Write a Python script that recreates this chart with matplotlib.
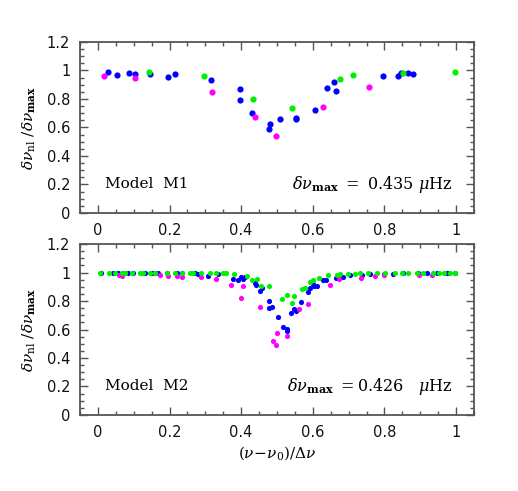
import matplotlib
matplotlib.use("Agg")
import matplotlib.pyplot as plt
from matplotlib.ticker import MultipleLocator

plt.rcParams['font.family'] = ['DejaVu Sans']
plt.rcParams['mathtext.fontset'] = 'dejavuserif'

# ---- Model M1 (top panel) ----
m1_blue_x = [0.027, 0.052, 0.088, 0.103, 0.145, 0.195, 0.215, 0.315, 0.396, 0.398, 0.429,
             0.480, 0.478, 0.508, 0.553, 0.553, 0.605, 0.639, 0.660, 0.664, 0.797, 0.837,
             0.846, 0.867, 0.881]
m1_blue_y = [0.986, 0.965, 0.983, 0.974, 0.972, 0.953, 0.976, 0.930, 0.867, 0.792, 0.703,
             0.624, 0.589, 0.657, 0.670, 0.657, 0.726, 0.874, 0.920, 0.855, 0.958, 0.958,
             0.979, 0.979, 0.976]
m1_green_x = [0.143, 0.296, 0.434, 0.541, 0.676, 0.713, 0.851, 0.997]
m1_green_y = [0.986, 0.960, 0.797, 0.736, 0.941, 0.965, 0.983, 0.990]
m1_mag_x = [0.018, 0.103, 0.318, 0.439, 0.497, 0.628, 0.757]
m1_mag_y = [0.958, 0.946, 0.848, 0.673, 0.537, 0.745, 0.883]

# ---- Model M2 (bottom panel) ----
m2_blue_x = [0.010, 0.041, 0.057, 0.071, 0.085, 0.099, 0.131, 0.150, 0.169, 0.192, 0.220,
             0.234, 0.271, 0.280, 0.308, 0.336, 0.378, 0.392, 0.399, 0.404, 0.412, 0.439,
             0.441, 0.453, 0.458, 0.477, 0.477, 0.485, 0.504, 0.516, 0.527, 0.527, 0.538,
             0.547, 0.553, 0.567, 0.587, 0.592, 0.601, 0.603, 0.611, 0.628, 0.637, 0.665,
             0.685, 0.704, 0.736, 0.760, 0.799, 0.825, 0.853, 0.895, 0.918, 0.946, 0.974,
             0.998]
m2_blue_y = [0.995, 0.998, 0.998, 0.996, 0.998, 0.998, 0.997, 0.996, 0.996, 0.995, 0.996,
             0.995, 0.995, 0.990, 0.979, 0.990, 0.953, 0.949, 0.967, 0.953, 0.972, 0.925,
             0.913, 0.867, 0.890, 0.803, 0.750, 0.757, 0.686, 0.616, 0.607, 0.593, 0.719,
             0.745, 0.731, 0.794, 0.862, 0.890, 0.918, 0.902, 0.902, 0.946, 0.946, 0.965,
             0.972, 0.981, 0.984, 0.991, 0.993, 0.993, 0.995, 0.995, 0.995, 0.995, 0.998,
             1.000]
m2_green_x = [0.006, 0.032, 0.048, 0.066, 0.076, 0.094, 0.117, 0.127, 0.145, 0.159, 0.192,
              0.215, 0.234, 0.257, 0.266, 0.289, 0.313, 0.331, 0.350, 0.359, 0.380, 0.415,
              0.429, 0.445, 0.455, 0.478, 0.513, 0.527, 0.541, 0.547, 0.569, 0.578, 0.592,
              0.600, 0.618, 0.643, 0.667, 0.676, 0.699, 0.718, 0.732, 0.755, 0.778, 0.802,
              0.830, 0.848, 0.867, 0.890, 0.909, 0.937, 0.951, 0.965, 0.983, 0.997]
m2_green_y = [1.000, 1.000, 0.999, 1.000, 1.000, 1.000, 1.000, 1.000, 1.000, 1.000, 0.999,
              1.000, 0.999, 1.000, 1.000, 0.998, 0.997, 0.997, 0.996, 0.996, 0.988, 0.979,
              0.949, 0.953, 0.902, 0.906, 0.815, 0.843, 0.787, 0.832, 0.885, 0.892, 0.934,
              0.944, 0.965, 0.981, 0.981, 0.988, 0.993, 0.993, 0.995, 0.995, 0.995, 0.995,
              0.995, 0.998, 0.998, 0.998, 0.998, 0.998, 0.998, 0.998, 0.998, 1.000]
m2_mag_x = [0.060, 0.066, 0.173, 0.195, 0.222, 0.236, 0.289, 0.329, 0.373, 0.399, 0.406,
            0.454, 0.490, 0.496, 0.499, 0.527, 0.562, 0.586, 0.648, 0.674, 0.734, 0.774,
            0.799, 0.897, 0.932]
m2_mag_y = [0.984, 0.979, 0.984, 0.979, 0.974, 0.967, 0.972, 0.953, 0.911, 0.820, 0.906,
            0.757, 0.520, 0.490, 0.572, 0.551, 0.747, 0.780, 0.909, 0.953, 0.960, 0.974,
            0.984, 0.981, 0.986]

x_ticks = [0, 0.2, 0.4, 0.6, 0.8, 1]
x_ticklabels = ['0', '0.2', '0.4', '0.6', '0.8', '1']
y_ticks = [0, 0.2, 0.4, 0.6, 0.8, 1, 1.2]
y_ticklabels = ['0', '0.2', '0.4', '0.6', '0.8', '1', '1.2']

BLUE, GREEN, MAG = '#0000ff', '#00f000', '#ff00ff'
frame_col = '#555555'

fig = plt.figure(figsize=(5.18, 4.91), dpi=100)
ax1 = fig.add_axes([0.1544, 0.5662, 0.7606, 0.3483])
ax2 = fig.add_axes([0.1544, 0.1548, 0.7606, 0.3482])


def style(ax):
    ax.set_xlim(-0.05, 1.05)
    ax.set_ylim(0, 1.2)
    ax.set_xticks(x_ticks)
    ax.set_yticks(y_ticks)
    ax.set_yticklabels(y_ticklabels)
    ax.xaxis.set_minor_locator(MultipleLocator(0.05))
    ax.yaxis.set_minor_locator(MultipleLocator(0.05))
    ax.tick_params(which='both', direction='in', top=True, right=True,
                   color=frame_col, width=1.0, labelsize=10.5, pad=7,
                   labelcolor='#111111')
    ax.tick_params(which='major', length=5.5)
    ax.tick_params(which='minor', length=2.8)
    for s in ax.spines.values():
        s.set_color(frame_col)
        s.set_linewidth(1.3)
    ax.set_ylabel(r'$\delta\nu_{\mathrm{nl}}\ /\delta\nu_{\mathbf{max}}$', fontsize=11,
                  labelpad=6)


ms1 = 20
ax1.scatter(m1_blue_x, m1_blue_y, s=ms1, color=BLUE, lw=0, zorder=3)
ax1.scatter(m1_mag_x, m1_mag_y, s=ms1, color=MAG, lw=0, zorder=3)
ax1.scatter(m1_green_x, m1_green_y, s=ms1, color=GREEN, lw=0, zorder=3)
style(ax1)
ax1.set_xticklabels(x_ticklabels)
ax1.text(0.02, 0.2, 'Model  M1', family='DejaVu Serif', fontsize=11, va='center')
ax1.text(0.99, 0.2, r'$\delta\nu_{\mathbf{max}}\ =\ 0.435\ \mu\mathrm{Hz}$', fontsize=11.5,
         va='center', ha='right')

ms2 = 14
ax2.scatter(m2_blue_x, m2_blue_y, s=ms2, color=BLUE, lw=0, zorder=3)
ax2.scatter(m2_mag_x, m2_mag_y, s=ms2, color=MAG, lw=0, zorder=3)
ax2.scatter(m2_green_x, m2_green_y, s=ms2, color=GREEN, lw=0, zorder=3)
style(ax2)
ax2.set_xticklabels(x_ticklabels)
ax2.text(0.02, 0.2, 'Model  M2', family='DejaVu Serif', fontsize=11, va='center')
ax2.text(0.99, 0.2, r'$\delta\nu_{\mathbf{max}}\ =0.426\quad\mu\mathrm{Hz}$', fontsize=11.5,
         va='center', ha='right')
ax2.set_xlabel(r'$(\nu\!-\!\nu_0)/\Delta\nu$', fontsize=11, labelpad=3)

fig.savefig('out.png', dpi=100)
